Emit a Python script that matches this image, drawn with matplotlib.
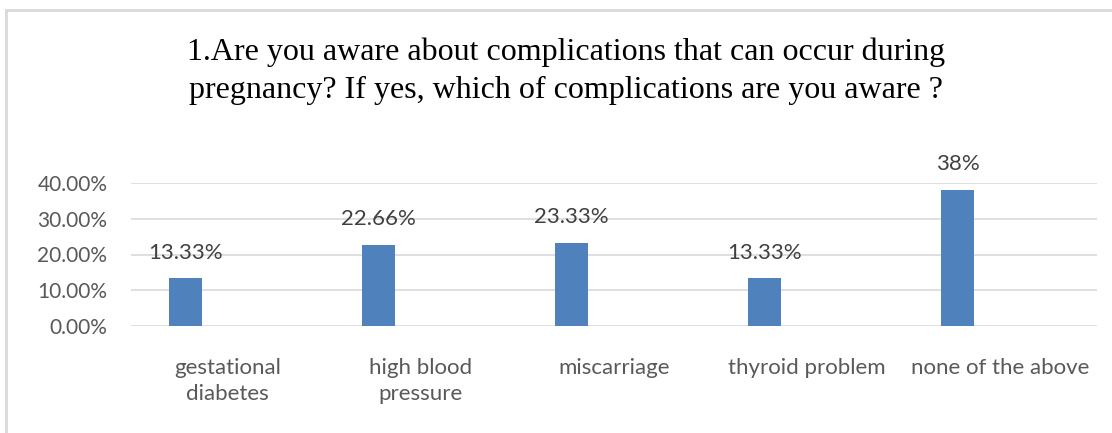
import matplotlib
matplotlib.use('Agg')
import matplotlib.pyplot as plt
from matplotlib.patches import Rectangle

categories = ['gestational\ndiabetes', 'high blood\npressure', 'miscarriage',
              'thyroid problem', 'none of the above']
values = [13.33, 22.66, 23.33, 13.33, 38]
value_labels = ['13.33%', '22.66%', '23.33%', '13.33%', '38%']
yticks = [0, 10, 20, 30, 40]

fig = plt.figure(figsize=(11.12, 4.33), dpi=100)
ax = fig.add_axes([131 / 1112, 1 - 326 / 433, 966 / 1112, 143 / 433])

# chart border (light gray, clipped at right/bottom like the source)
fig.patches.append(Rectangle((6 / 1112, -0.1), 1.2, (433 - 10) / 433 + 0.1,
                             transform=fig.transFigure, fill=False,
                             edgecolor='#d9d9d9', lw=2))

x = list(range(len(categories)))
bar_x = [i - 0.22 for i in x]
ax.bar(bar_x, values, width=0.17, color='#4f81bd', zorder=3)

for bx, v, lab in zip(bar_x, values, value_labels):
    ax.annotate(lab, (bx, v), xytext=(0, 18.5), textcoords='offset points',
                ha='center', va='center', fontsize=16, color='#404040',
                family='Lato', zorder=4)

ax.set_xlim(-0.5, 4.5)
ax.set_ylim(0, 40)
ax.set_yticks(yticks)
ax.set_yticklabels(['%.2f%%' % t for t in yticks], family='Lato',
                   fontsize=15, color='#595959')
ax.set_xticks(x)
ax.set_xticklabels(categories, family='Lato', fontsize=16, color='#595959',
                   linespacing=1.35, va='top')
ax.tick_params(axis='both', length=0)
ax.tick_params(axis='y', pad=17)
ax.tick_params(axis='x', pad=23)
ax.grid(axis='y', color='#d9d9d9', lw=1.2, zorder=0)
for s in ax.spines.values():
    s.set_visible(False)

fig.text(566 / 1112, 1 - 71 / 433,
         '1.Are you aware about complications that can occur during\n'
         'pregnancy? If yes, which of complications are you aware ?',
         ha='center', va='center', family='Liberation Serif', fontsize=23,
         linespacing=1.4, color='#000000')

fig.savefig('out.png', dpi=100)
